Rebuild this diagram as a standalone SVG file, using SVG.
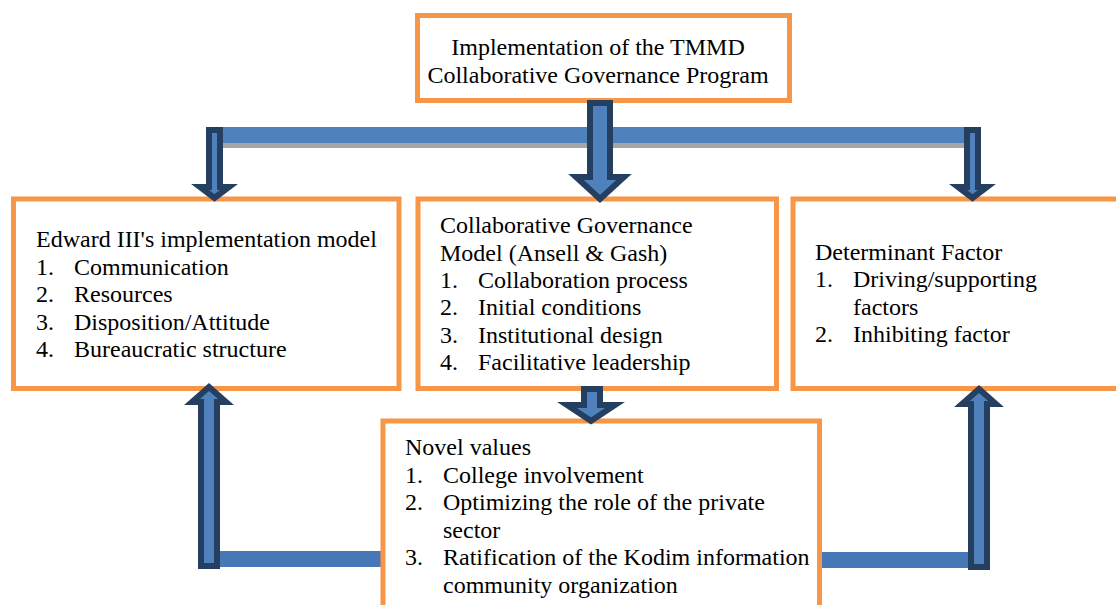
<svg xmlns="http://www.w3.org/2000/svg" width="1116" height="605" viewBox="0 0 1116 605">
<style>
.box{fill:#fff;stroke:#F79646;stroke-width:5}
.t{font-family:"Liberation Serif","Times New Roman",serif;font-size:24px;fill:#000}
.bar{fill:#4F81BD}
.bar2{fill:#4678B8}
.shadow{fill:#A5A5A5}
.arr{fill:#4F81BD;stroke:#243F60;stroke-width:6;stroke-linejoin:miter;stroke-miterlimit:10}
</style>
<g id="connector-bars">
<rect class="shadow" x="220" y="143" width="746" height="5"/>
<rect class="bar" x="206" y="127" width="760" height="16"/>
<rect class="bar2" x="218" y="551" width="163" height="16"/>
<rect class="bar2" x="822" y="552" width="148" height="16"/>
</g>
<g id="node-top">
<rect class="box" x="417.5" y="15.5" width="372" height="85"/>
<text class="t" text-anchor="middle"><tspan x="598" y="54.5">Implementation of the TMMD</tspan><tspan x="598" y="82.5">Collaborative Governance Program</tspan></text>
</g>
<g id="node-edward">
<rect class="box" x="13.5" y="199" width="385.5" height="189.5"/>
<text class="t"><tspan x="36" y="247">Edward III's implementation model</tspan><tspan x="36" y="274.6">1.</tspan><tspan x="74" y="274.6">Communication</tspan><tspan x="36" y="302.2">2.</tspan><tspan x="74" y="302.2">Resources</tspan><tspan x="36" y="329.8">3.</tspan><tspan x="74" y="329.8">Disposition/Attitude</tspan><tspan x="36" y="357.4">4.</tspan><tspan x="74" y="357.4">Bureaucratic structure</tspan></text>
</g>
<g id="node-collab">
<rect class="box" x="418" y="199" width="358.5" height="189.5"/>
<text class="t"><tspan x="440" y="233.3">Collaborative Governance</tspan><tspan x="440" y="260.6">Model (Ansell &amp; Gash)</tspan><tspan x="440" y="288">1.</tspan><tspan x="478" y="288">Collaboration process</tspan><tspan x="440" y="315.3">2.</tspan><tspan x="478" y="315.3">Initial conditions</tspan><tspan x="440" y="342.6">3.</tspan><tspan x="478" y="342.6">Institutional design</tspan><tspan x="440" y="370">4.</tspan><tspan x="478" y="370">Facilitative leadership</tspan></text>
</g>
<g id="node-determinant">
<rect class="box" x="793" y="199" width="340" height="189.5"/>
<text class="t"><tspan x="815" y="260">Determinant Factor</tspan><tspan x="815" y="287">1.</tspan><tspan x="853" y="287">Driving/supporting</tspan><tspan x="853" y="314.5">factors</tspan><tspan x="815" y="342">2.</tspan><tspan x="853" y="342">Inhibiting factor</tspan></text>
</g>
<g id="node-novel">
<rect class="box" x="383" y="421" width="436.5" height="200"/>
<text class="t"><tspan x="405" y="455">Novel values</tspan><tspan x="405" y="482.6">1.</tspan><tspan x="443" y="482.6">College involvement</tspan><tspan x="405" y="510.2">2.</tspan><tspan x="443" y="510.2">Optimizing the role of the private</tspan><tspan x="443" y="537.8">sector</tspan><tspan x="405" y="565.4">3.</tspan><tspan x="443" y="565.4">Ratification of the Kodim information</tspan><tspan x="443" y="593">community organization</tspan></text>
</g>
<g id="connectors">
<polygon class="arr" points="590,103 610,103 610,177 624,177 600,199 576,177 590,177"/>
<polygon class="arr" points="209,130 220,130 220,187 229,187 214.5,198 200,187 209,187"/>
<polygon class="arr" points="967,130 978,130 978,187 987,187 972.5,198 958,187 967,187"/>
<polygon class="arr" points="584,389 600,389 600,405 615,405 591,421 567,405 584,405"/>
<polygon class="arr" points="201,566 217,566 217,402 226,402 209,387 192,402 201,402"/>
<polygon class="arr" points="971,567 987,567 987,404 996,404 979,389 962,404 971,404"/>
</g>
</svg>
